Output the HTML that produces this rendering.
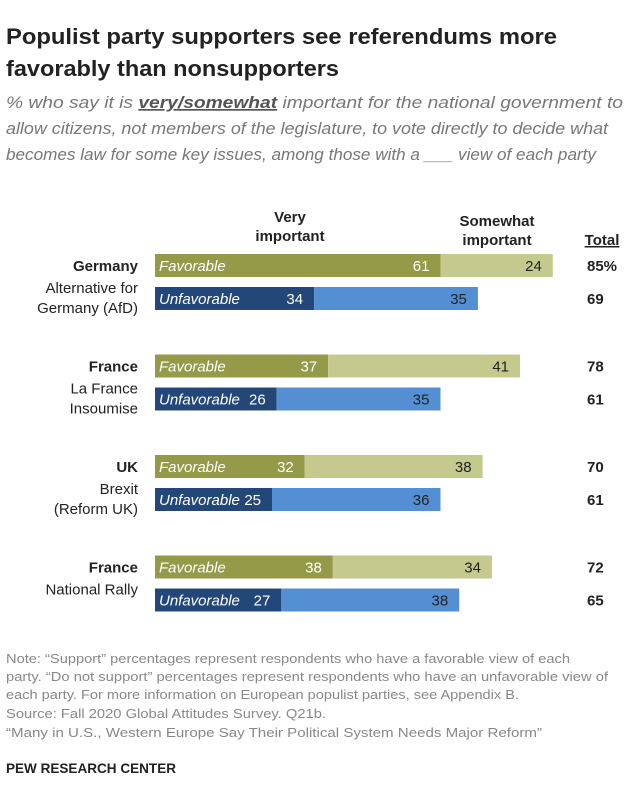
<!DOCTYPE html>
<html><head><meta charset="utf-8"><style>
body{margin:0;background:#fff;font-family:"Liberation Sans",Arial,sans-serif}
svg text{font-family:"Liberation Sans",Arial,sans-serif}
</style></head><body>
<svg width="640" height="804" xmlns="http://www.w3.org/2000/svg">
<text x="6" y="44" font-size="22" font-weight="bold" fill="#222" textLength="551" lengthAdjust="spacingAndGlyphs">Populist party supporters see referendums more</text>
<text x="6" y="76" font-size="22" font-weight="bold" fill="#222" textLength="333" lengthAdjust="spacingAndGlyphs">favorably than nonsupporters</text>
<g font-size="17" font-style="italic" fill="#777">
<text x="6" y="108" textLength="617" lengthAdjust="spacingAndGlyphs">% who say it is <tspan font-weight="bold" text-decoration="underline" fill="#555">very/somewhat</tspan> important for the national government to</text>
<text x="6" y="134" textLength="602" lengthAdjust="spacingAndGlyphs">allow citizens, not members of the legislature, to vote directly to decide what</text>
<text x="6" y="160" textLength="590" lengthAdjust="spacingAndGlyphs">becomes law for some key issues, among those with a ___ view of each party</text>
</g>
<g font-size="15" font-weight="bold" fill="#222" text-anchor="middle">
<text x="290" y="222">Very</text>
<text x="290" y="241">important</text>
<text x="497" y="226">Somewhat</text>
<text x="497" y="245">important</text>
<text x="602" y="245" text-decoration="underline">Total</text>
</g>
<g id="bars"></g>
<g font-size="13" fill="#888">
<text x="6" y="663" textLength="564" lengthAdjust="spacingAndGlyphs">Note: “Support” percentages represent respondents who have a favorable view of each</text>
<text x="6" y="681" textLength="602" lengthAdjust="spacingAndGlyphs">party. “Do not support” percentages represent respondents who have an unfavorable view of</text>
<text x="6" y="699" textLength="513" lengthAdjust="spacingAndGlyphs">each party.  For more information on European populist parties, see Appendix B.</text>
<text x="6" y="718" textLength="320" lengthAdjust="spacingAndGlyphs">Source: Fall 2020 Global Attitudes Survey. Q21b.</text>
<text x="6" y="737" textLength="536" lengthAdjust="spacingAndGlyphs">“Many in U.S., Western Europe Say Their Political System Needs Major Reform”</text>
</g>
<text x="6" y="773" font-size="14" font-weight="bold" fill="#222" textLength="170" lengthAdjust="spacingAndGlyphs">PEW RESEARCH CENTER</text>
</svg>
<script>
const countries=["Germany","France","UK","France"];
const parties=[["Alternative for","Germany (AfD)"],["La France","Insoumise"],["Brexit","(Reform UK)"],["National Rally"]];
const favVery=[61,37,32,38];
const favSome=[24,41,38,34];
const unfVery=[34,26,25,27];
const unfSome=[35,35,36,38];
const favTotal=["85%","78","70","72"];
const unfTotal=["69","61","61","65"];
const NS="http://www.w3.org/2000/svg";
const g=document.getElementById('bars');
const x0=155,k=4.68;
const xs=v=>x0+v*k;
function el(tag,attrs,txt){const e=document.createElementNS(NS,tag);for(const a in attrs)e.setAttribute(a,attrs[a]);if(txt!==undefined)e.textContent=txt;g.appendChild(e);return e;}
countries.forEach((c,i)=>{
 const y=254+i*100.5;
 const t=el('text',{x:138,y:y+17,'font-size':15,'font-weight':'bold','text-anchor':'end',fill:'#222'},c);
 
 
 parties[i].forEach((p,j)=>{const pt=el('text',{x:138,y:y+39+j*20,'font-size':15,'text-anchor':'end',fill:'#222'},p);
  
  });
 const rows=[[favVery[i],favSome[i],'#949a48','#c5c98e','Favorable','#222',favTotal[i],y],[unfVery[i],unfSome[i],'#24477a','#548fd4','Unfavorable','#222',unfTotal[i],y+33]];
 rows.forEach((r,j)=>{
  const yy=r[7];
  const a=el('rect',{x:x0,y:yy,width:xs(r[0])-x0,height:23,fill:r[2]});
  
  
  const b=el('rect',{x:xs(r[0]),y:yy,width:xs(r[0]+r[1])-xs(r[0]),height:23,fill:r[3]});
  
  
  const lb=el('text',{x:x0+4,y:yy+17,'font-size':15,'font-style':'italic',fill:'#fff'},r[4]);
  
  
  const v1=el('text',{x:xs(r[0])-11,y:yy+17,'font-size':15,'text-anchor':'end',fill:'#fff'},r[0]);
  
  
  const v2=el('text',{x:xs(r[0]+r[1])-11,y:yy+17,'font-size':15,'text-anchor':'end',fill:'#222'},r[1]);
  
  
  const tt=el('text',{x:587,y:yy+17,'font-size':15,'font-weight':'bold',fill:'#222'},r[6]);
  
  
 });
});
</script>
</body></html>
